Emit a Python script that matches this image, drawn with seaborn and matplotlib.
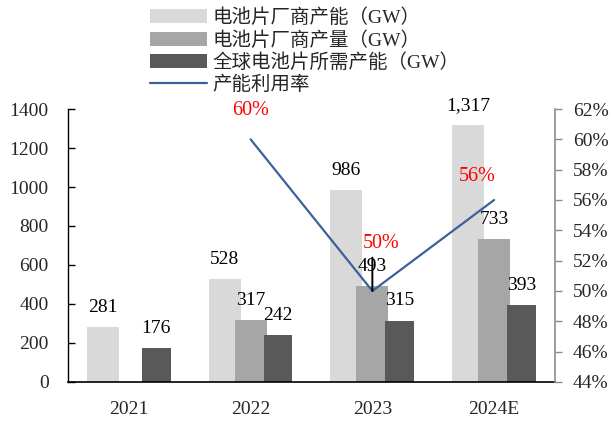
import numpy as np
import pandas as pd
import matplotlib
matplotlib.use("Agg")
import matplotlib.pyplot as plt
from matplotlib.patches import Patch
from matplotlib.lines import Line2D
from matplotlib.ticker import PercentFormatter, FixedLocator
import seaborn as sns

# ---- data ----
years = ["2021", "2022", "2023", "2024E"]
cell_capacity = [281, 528, 986, 1317]          # 电池片厂商产能 (GW)
cell_output = [np.nan, 317, 493, 733]          # 电池片厂商产量 (GW)
global_demand = [176, 242, 315, 393]           # 全球电池片所需产能 (GW)
utilization = [np.nan, 0.60, 0.50, 0.56]       # 产能利用率

series_names = ["电池片厂商产能（GW）", "电池片厂商产量（GW）", "全球电池片所需产能（GW）"]
line_name = "产能利用率"

# ---- style ----
sns.set_style("white")
plt.rcParams["font.family"] = ["Liberation Serif", "Noto Sans CJK SC", "DejaVu Sans"]
plt.rcParams["axes.unicode_minus"] = False

colors = ["#D9D9D9", "#A6A6A6", "#595959"]
line_color = "#3A6298"
offsets = [-0.213, 0.0, 0.225]
widths = [0.262, 0.262, 0.238]

fig = plt.figure(figsize=(6.11, 4.22), dpi=100)
ax = fig.add_axes([0.1113, 0.0948, 0.7970, 0.6469])
ax2 = ax.twinx()

idx = np.arange(len(years))
all_series = [cell_capacity, cell_output, global_demand]
for vals, off, w, c in zip(all_series, offsets, widths, colors):
    df = pd.DataFrame({"pos": idx + off, "val": vals}).dropna()
    sns.barplot(data=df, x="pos", y="val", native_scale=True, width=w,
                color=c, saturation=1, errorbar=None, ax=ax, linewidth=0)
    for p, v in zip(df["pos"], df["val"]):
        ax.annotate(f"{int(v):,}", xy=(p, v), xytext=(0, 8), textcoords="offset points",
                    ha="center", va="bottom", fontsize=14, color="black")

# utilization line
ldf = pd.DataFrame({"pos": idx, "rate": utilization}).dropna()
sns.lineplot(data=ldf, x="pos", y="rate", ax=ax2, color=line_color, linewidth=1.6)
label_shift = {1: (0, 14), 2: (6, 27), 3: (-12, 10)}
for p, r in zip(ldf["pos"], ldf["rate"]):
    dx, dy = label_shift[int(p)]
    ax2.annotate(f"{r:.0%}", xy=(p, r), xytext=(dx, dy), textcoords="offset points",
                 ha="center", va="bottom", fontsize=14.5, color="red")
# leader line on the 2023 point
ax2.annotate("", xy=(2, utilization[2]), xytext=(0, 24), textcoords="offset points",
             arrowprops=dict(arrowstyle="-", color="black", lw=1.4, shrinkA=0, shrinkB=0))

# ---- axes ----
ax.set_xlim(-0.5, 3.5)
ax.set_ylim(0, 1400)
ax.set_yticks(range(0, 1401, 200))
ax.xaxis.set_major_locator(FixedLocator(idx))
ax.set_xticklabels(years)
ax.xaxis.set_minor_locator(FixedLocator([0.5, 1.5, 2.5]))
ax.tick_params(axis="x", which="major", length=0, labelsize=14, pad=14)
ax.tick_params(axis="x", which="minor", direction="in", length=5, width=1, color="black")
ax.tick_params(axis="y", direction="in", length=5, width=1, color="black", labelsize=14, pad=14)
ax.set_xlabel("")
ax.set_ylabel("")

ax2.set_ylim(0.44, 0.62)
ax2.set_yticks(np.arange(0.44, 0.6201, 0.02))
ax2.yaxis.set_major_formatter(PercentFormatter(1, decimals=0))
ax2.tick_params(axis="y", direction="out", length=5, width=1, color="#8C8C8C", labelsize=14, pad=8)
ax2.set_ylabel("")
ax2.set_xlabel("")

for a in (ax, ax2):
    a.spines["top"].set_visible(False)
ax.spines["left"].set_color("black")
ax.spines["bottom"].set_color("black")
ax.spines["right"].set_visible(False)
ax2.spines["left"].set_visible(False)
ax2.spines["bottom"].set_visible(False)
ax2.spines["right"].set_color("#8C8C8C")
ax2.spines["right"].set_linewidth(1.2)
ax.spines["left"].set_linewidth(1.0)
ax.spines["bottom"].set_linewidth(1.2)

handles = [Patch(facecolor=c, edgecolor="none") for c in colors]
handles.append(Line2D([0], [0], color=line_color, lw=1.6))
fig.legend(handles, series_names + [line_name], loc="upper left",
           bbox_to_anchor=(0.243, 0.985), frameon=False, fontsize=14,
           handlelength=2.9, handleheight=0.75, handletextpad=0.3,
           labelspacing=0.2, borderaxespad=0, borderpad=0.1)

fig.savefig("out.png", dpi=100)
